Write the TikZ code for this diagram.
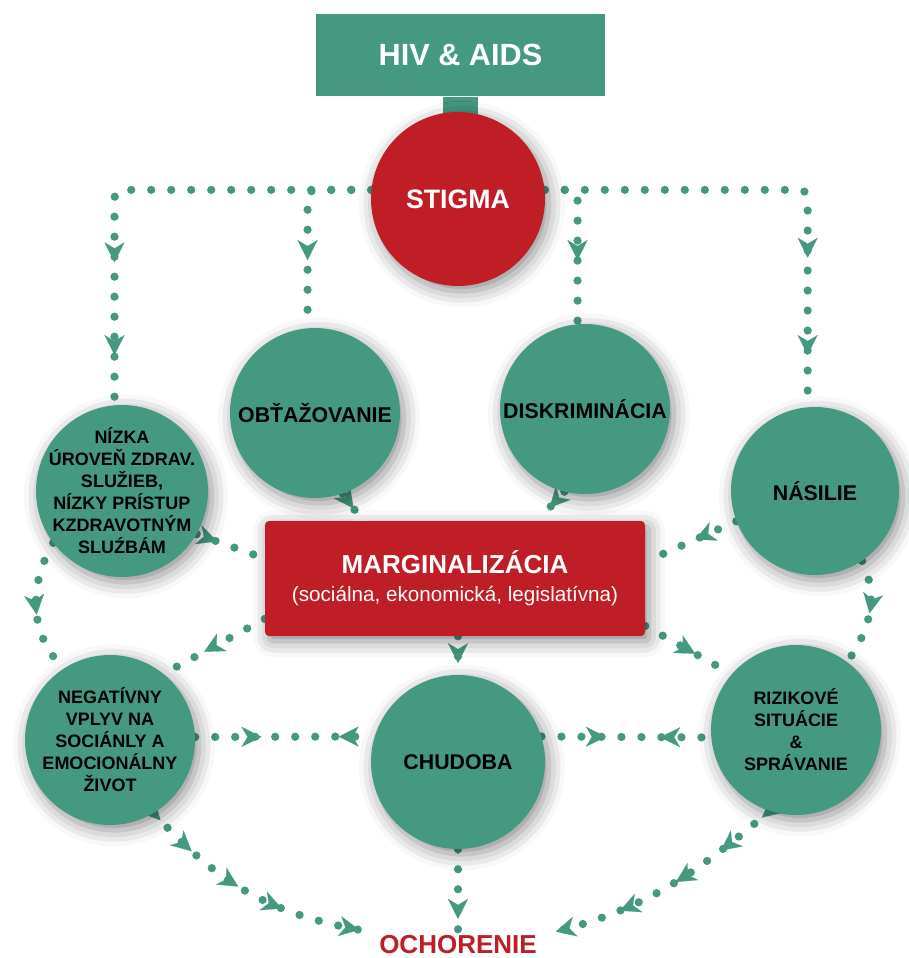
\documentclass[tikz,border=0pt]{standalone}
\usepackage{fontspec}
\setmainfont{Liberation Sans}
\usepackage{tikz}
\usetikzlibrary{arrows.meta,positioning,calc,backgrounds,decorations.markings,shadows.blur}
\definecolor{hivteal}{RGB}{69,153,128}
\definecolor{hivred}{RGB}{192,30,38}
\tikzset{
    softshadow/.style={blur shadow={shadow xshift=3pt, shadow yshift=-4pt, shadow blur radius=12pt, shadow opacity=45}},
    headbox/.style={fill=hivteal, text=white, font=\fontsize{23}{27}\selectfont\bfseries, minimum width=216.75pt, minimum height=61.5pt, inner sep=0pt},
    stembox/.style={fill=hivteal, minimum width=26pt, minimum height=20pt, inner sep=0pt},
    stigmadisc/.style={circle, fill=hivred, text=white, font=\fontsize{20}{24}\selectfont\bfseries, minimum size=130.5pt, inner sep=0pt, softshadow},
    bubble/.style={circle, fill=hivteal, minimum size=127.5pt, inner sep=0pt, softshadow},
    bubbletext/.style={align=center, font=\fontsize{16}{19}\selectfont\bfseries, inner sep=0pt},
    bubblesmall/.style={align=center, font=\fontsize{13.5}{16.5}\selectfont\bfseries, inner sep=0pt},
    margbox/.style={fill=hivred, text=white, rounded corners=3pt, minimum width=285pt, minimum height=86.25pt, align=center, font=\fontsize{15.5}{21}\selectfont, softshadow},
    outcome/.style={text=hivred, font=\fontsize{19.5}{23}\selectfont\bfseries, inner sep=1pt},
    dotline/.style={draw=hivteal, line width=6.2pt, line cap=round, dash pattern=on 0pt off 15pt},
    arrowat/.style={postaction={decorate, decoration={markings, mark=at position #1 with {\arrow{Stealth[length=15pt, width=15pt, inset=4.5pt, line width=0.1pt]}}}}},
    arrowback/.style={postaction={decorate, decoration={markings, mark=at position #1 with {\arrowreversed{Stealth[length=15pt, width=15pt, inset=4.5pt, line width=0.1pt]}}}}}
}

\begin{document}
\begin{tikzpicture}[x=0.75pt, y=-0.75pt]
    \useasboundingbox (0,0) rectangle (909,958);
    % top: cause
    \node[headbox] (hiv) at (460.5,55) {HIV \& AIDS};
    \node[stembox, below=0pt of hiv] (hivstem) {};
    \node[stigmadisc] (stigma) at (458,199) {STIGMA};
    % second row
    \node[bubble] (obt) at (315,413) {};
    \node[bubbletext] (obttext) at (obt) {OBŤAŽOVANIE};
    \node[bubble] (disk) at (585,409) {};
    \node[bubbletext] (disktext) at (disk) {DISKRIMINÁCIA};
    \node[bubble, minimum size=129pt] (nizka) at (122,491) {};
    \node[bubblesmall] (nizkatext) at (nizka) {NÍZKA\\ÚROVEŇ ZDRAV.\\SLUŽIEB,\\NÍZKY PRÍSTUP\\KZDRAVOTNÝM\\SLUŹBÁM};
    \node[bubble, minimum size=126pt] (nasilie) at (815,491) {};
    \node[bubbletext] (nasilietext) at (nasilie) {NÁSILIE};
    \node[margbox] (marg) at (455,578.5) {{\fontsize{19.5}{21}\selectfont\bfseries MARGINALIZÁCIA}\\(sociálna, ekonomická, legislatívna)};
    % bottom row
    \node[bubble] (neg) at (110,740) {};
    \node[bubblesmall] (negtext) at (neg) {NEGATÍVNY\\VPLYV NA\\SOCIÁNLY A\\EMOCIONÁLNY\\ŽIVOT};
    \node[bubble, minimum size=130.5pt] (chud) at (458,762) {};
    \node[bubbletext] (chudtext) at (chud) {CHUDOBA};
    \node[bubble] (riz) at (796,730) {};
    \node[bubblesmall] (riztext) at (riz) {RIZIKOVÉ\\SITUÁCIE\\\&\\SPRÁVANIE};
    \node[outcome] (och) at (458,945) {OCHORENIE};

    \begin{scope}[on background layer]
        % from stigma
        \draw[dotline, rounded corners=6pt, arrowat=-107pt, arrowat=-37.5pt] (stigma.174) -| (nizka.95);
        \draw[dotline, rounded corners=6pt, arrowat=-51pt] (stigma.174) -| (obt.95);
        \draw[dotline, rounded corners=6pt, arrowat=-48pt] (stigma.6) -| (disk.95);
        \draw[dotline, rounded corners=6pt, arrowat=-112pt, arrowat=-39pt] (stigma.6) -| (nasilie.95);
        % into marginalizacia
        \draw[dotline, arrowat=0.55] (obt.-71) -- (marg.148);
        \draw[dotline, arrowat=0.55] (disk.256) -- (marg.35);
        \draw[dotline, arrowat=0.3] (nizka.-30) -- (marg.174);
        \draw[dotline, arrowat=0.45] (nasilie.201) -- (marg.5);
        % side links
        \draw[dotline, arrowat=0.55] (nizka.217) to[out=240, in=135] (neg.123);
        \draw[dotline, arrowat=0.5] (nasilie.-56) to[out=-65, in=55] (riz.53);
        % out of marginalizacia
        \draw[dotline, arrowat=0.6] (marg.192) -- (neg.51);
        \draw[dotline, arrowat=0.58] (marg.-14) -- (riz.139);
        \draw[dotline, arrowat=0.7] (chud.north |- marg.south) -- (chud.north);
        % bottom row
        \draw[dotline, arrowat=0.37, arrowback=0.8] (neg.2) -- (chud.163);
        \draw[dotline, arrowat=0.38, arrowback=0.7] (chud.17) -- (riz.185);
        % into ochorenie
        \draw[dotline, arrowat=0.04, arrowat=0.22, arrowat=0.46, arrowat=0.66, arrowat=0.99] (neg.-59) to[out=-48, in=170] ([shift={(-16,-4)}]och.north west);
        \draw[dotline, arrowat=0.06, arrowat=0.82] (chud.south) -- (och.north);
        \draw[dotline, arrowat=0.04, arrowat=0.25, arrowat=0.47, arrowat=0.72, arrowat=0.99] (riz.252) to[out=220, in=14] ([shift={(15,-2)}]och.north east);
    \end{scope}
\end{tikzpicture}
\end{document}
